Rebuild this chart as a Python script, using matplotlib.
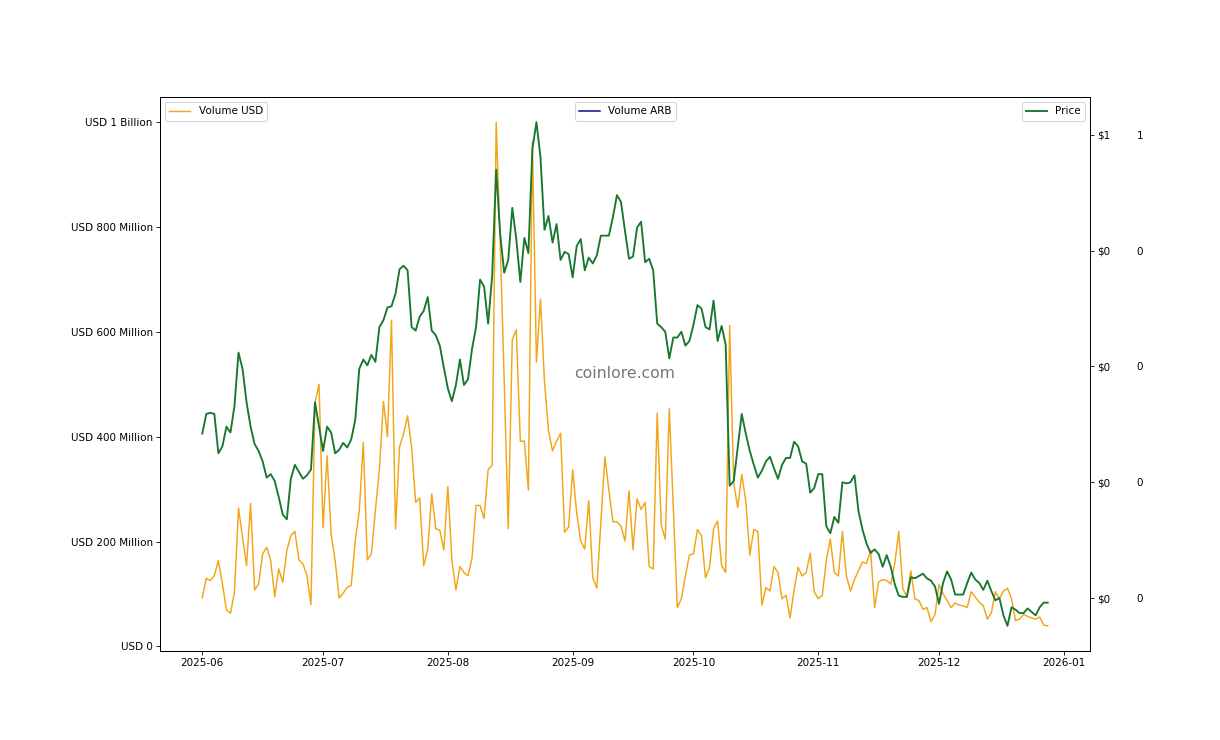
import matplotlib
matplotlib.use('Agg')
import matplotlib.pyplot as plt
import matplotlib.ticker as mticker
import pandas as pd

dates = pd.date_range('2025-06-01', '2025-12-28', freq='D')

# daily traded volume in USD millions
volume_jun = [92.8, 130.1, 125.7, 135.2, 163.8, 119.4, 69.9, 63.4, 103.4, 264.2,
              208.2, 154.3, 273.0, 108.0, 119.4, 176.6, 189.2, 163.8, 95.2, 148.0,
              122.5, 182.9, 211.4, 219.6, 165.2, 157.5, 135.2, 80.0, 464.8, 500.0]
volume_jul = [226.1, 363.8, 214.7, 163.8, 92.8, 101.5, 113.0, 116.2, 201.9, 259.1,
              389.2, 165.2, 176.6, 259.1, 338.5, 467.3, 400.0, 622.3, 224.2, 381.0,
              405.2, 440.0, 379.6, 274.9, 283.3, 154.3, 185.3, 291.1, 224.4, 221.9,
              184.4]
volume_aug = [305.0, 164.2, 107.8, 152.4, 141.0, 134.9, 168.4, 269.0, 269.0, 244.0,
              337.5, 345.5, 1000.0, 773.4, 504.8, 224.8, 585.6, 604.2, 391.6, 391.6,
              298.1, 963.1, 542.1, 662.5, 505.4, 411.8, 373.0, 391.6, 406.5, 217.9,
              228.0]
volume_sep = [337.0, 254.7, 201.2, 185.9, 278.1, 131.1, 111.1, 237.9, 361.7, 298.1,
              237.9, 237.9, 229.9, 201.2, 296.8, 184.6, 281.5, 261.3, 274.7, 152.4,
              147.8, 445.2, 231.2, 204.6, 453.3, 264.8, 74.3, 91.0, 134.5, 174.5]
volume_oct = [176.6, 223.2, 211.2, 131.1, 151.0, 224.6, 239.2, 154.5, 141.1, 612.2,
              311.4, 264.8, 328.2, 278.1, 174.5, 223.2, 219.2, 78.9, 112.4, 105.7,
              152.4, 141.1, 91.0, 97.7, 54.3, 107.6, 151.0, 134.5, 141.1, 177.9,
              104.4]
volume_nov = [91.0, 97.7, 164.6, 204.6, 141.1, 134.5, 219.2, 134.5, 105.7, 127.6,
              144.4, 161.1, 158.5, 182.9, 74.3, 123.0, 127.6, 125.7, 119.0, 158.1,
              219.2, 111.1, 94.3, 144.4, 91.0, 87.6, 70.9, 74.3, 47.6, 61.0]
volume_dec = [117.7, 101.0, 87.6, 74.3, 82.9, 78.9, 77.5, 74.3, 104.4, 94.3,
              84.2, 77.5, 52.2, 64.2, 104.4, 91.0, 105.7, 111.1, 91.0, 49.5,
              52.2, 61.0, 57.5, 54.3, 52.2, 56.2, 40.8, 39.4]

# daily price in USD
price_jun = [0.342, 0.359, 0.360, 0.359, 0.325, 0.331, 0.348, 0.343, 0.366, 0.412,
             0.398, 0.369, 0.348, 0.333, 0.327, 0.318, 0.304, 0.307, 0.301, 0.287,
             0.272, 0.268, 0.303, 0.315, 0.309, 0.303, 0.306, 0.311, 0.369, 0.348]
price_jul = [0.327, 0.348, 0.343, 0.325, 0.328, 0.334, 0.330, 0.337, 0.354, 0.398,
             0.406, 0.401, 0.410, 0.404, 0.434, 0.440, 0.451, 0.452, 0.463, 0.484,
             0.487, 0.483, 0.434, 0.431, 0.443, 0.448, 0.460, 0.431, 0.427, 0.418,
             0.399]
price_aug = [0.381, 0.370, 0.384, 0.406, 0.384, 0.389, 0.415, 0.434, 0.475, 0.469,
             0.437, 0.478, 0.570, 0.514, 0.481, 0.492, 0.537, 0.510, 0.473, 0.511,
             0.498, 0.588, 0.611, 0.581, 0.518, 0.530, 0.507, 0.523, 0.492, 0.499,
             0.497]
price_sep = [0.477, 0.504, 0.510, 0.483, 0.494, 0.489, 0.496, 0.513, 0.513, 0.513,
             0.529, 0.548, 0.542, 0.517, 0.493, 0.495, 0.520, 0.525, 0.490, 0.493,
             0.483, 0.437, 0.434, 0.430, 0.407, 0.425, 0.425, 0.430, 0.418, 0.422]
price_oct = [0.436, 0.453, 0.450, 0.434, 0.432, 0.457, 0.422, 0.435, 0.419, 0.297,
             0.301, 0.330, 0.359, 0.342, 0.327, 0.315, 0.304, 0.310, 0.318, 0.322,
             0.312, 0.303, 0.315, 0.321, 0.321, 0.335, 0.331, 0.318, 0.316, 0.291,
             0.295]
price_nov = [0.307, 0.307, 0.262, 0.256, 0.270, 0.265, 0.300, 0.299, 0.300, 0.306,
             0.275, 0.259, 0.247, 0.239, 0.242, 0.238, 0.227, 0.237, 0.227, 0.212,
             0.202, 0.201, 0.201, 0.218, 0.217, 0.219, 0.221, 0.217, 0.215, 0.210]
price_dec = [0.195, 0.213, 0.223, 0.216, 0.203, 0.203, 0.203, 0.213, 0.222, 0.216,
             0.213, 0.207, 0.215, 0.206, 0.198, 0.200, 0.185, 0.176, 0.192, 0.190,
             0.187, 0.187, 0.191, 0.188, 0.185, 0.192, 0.196, 0.196]

# ARB-denominated volume is not drawn in the source chart, only its legend
volume_arb = []

volume_usd = [v * 1e6 for v in volume_jun + volume_jul + volume_aug + volume_sep
              + volume_oct + volume_nov + volume_dec]
price = (price_jun + price_jul + price_aug + price_sep + price_oct + price_nov
         + price_dec)


def usd_label(x, pos):
    if x >= 1e9:
        return 'USD %.0f Billion' % (x / 1e9)
    if x > 0:
        return 'USD %.0f Million' % (x / 1e6)
    return 'USD 0'


# drawn at 75 dpi so text and lines come out at the smaller source scale
fig = plt.figure(figsize=(1220 / 75, 740 / 75), dpi=75)
ax = fig.add_axes([160 / 1220, 1 - 651 / 740, 930 / 1220, 554 / 740])
ax.plot(dates, volume_usd, color='#f2a516', lw=1.4, label='Volume USD')
ax.yaxis.set_major_formatter(mticker.FuncFormatter(usd_label))
ax.legend(loc='upper left')

ax2 = ax.twinx()
ax2.plot(dates, price, color='#17772f', lw=1.8, label='Price')
ax2.yaxis.set_major_formatter(
    mticker.FuncFormatter(lambda x, pos: '$%.0f' % round(x, 6)))
ax2.legend(loc='upper right')

ax3 = ax.twinx()
ax3.plot(dates[:len(volume_arb)], volume_arb, color='#1414a0',
         label='Volume ARB')
ax3.spines['right'].set_position(('outward', 41))
ax3.spines['right'].set_visible(False)
ax3.set_ylim(ax2.get_ylim())
ax3.yaxis.set_major_locator(mticker.FixedLocator(ax2.get_yticks()))
ax3.yaxis.set_major_formatter(
    mticker.FuncFormatter(lambda x, pos: '%.0f' % round(x, 6)))
ax3.tick_params(axis='y', length=0)
ax3.legend(loc='upper center')

ax.text(0.5, 0.5, 'coinlore.com', transform=ax.transAxes, ha='center',
        va='center', fontsize=15, color='#555555', alpha=0.8)

fig.savefig('out.png', dpi=75)
